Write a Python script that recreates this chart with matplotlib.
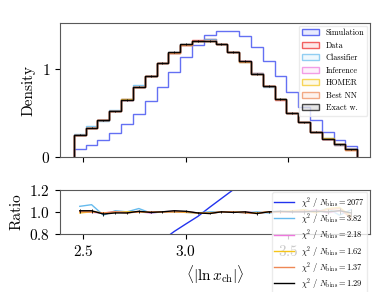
import numpy as np
import matplotlib
matplotlib.use('Agg')
import matplotlib.pyplot as plt
from matplotlib.patches import Patch
from matplotlib.colors import to_rgba

plt.rcParams.update({'font.family': 'serif',
                     'font.serif': ['cmr10'],
                     'mathtext.fontset': 'cm',
                     'axes.formatter.use_mathtext': True,
                     'font.size': 11,
                     'axes.edgecolor': '0.35',
                     'axes.linewidth': 0.8})

# binning of <|ln x_ch|>
edges = np.linspace(2.456, 3.836, 25)

# histograms (density)
data = [0.250, 0.330, 0.425, 0.525, 0.655, 0.795, 0.925, 1.070, 1.180, 1.275, 1.325, 1.335,
        1.280, 1.195, 1.087, 0.955, 0.805, 0.655, 0.500, 0.395, 0.284, 0.205, 0.142, 0.088]
sim = [0.090, 0.140, 0.190, 0.270, 0.370, 0.490, 0.640, 0.795, 0.970, 1.136, 1.270, 1.390,
       1.435, 1.435, 1.370, 1.250, 1.087, 0.917, 0.740, 0.568, 0.417, 0.284, 0.197, 0.129]

# ratios model / data
r_classifier = [1.05, 1.065, 0.97, 1.01, 1.00, 1.03, 0.99, 1.00, 1.00, 0.995, 0.99, 1.00,
                1.00, 1.00, 0.99, 1.00, 0.99, 1.00, 1.00, 1.02, 1.00, 1.03, 0.97, 1.02]
r_inference = [1.00, 0.995, 0.99, 1.00, 0.995, 1.00, 0.99, 1.00, 1.005, 1.00, 0.99, 0.99,
               1.00, 0.995, 1.00, 0.99, 1.00, 0.995, 1.00, 1.00, 1.02, 0.99, 1.01, 0.97]
r_homer = [0.99, 1.00, 0.99, 0.995, 1.00, 1.00, 0.995, 1.00, 1.00, 0.995, 0.99, 0.99,
           1.00, 1.00, 0.995, 0.99, 1.00, 1.00, 1.01, 1.02, 0.99, 1.03, 1.04, 0.96]
r_bestnn = [1.00, 1.00, 0.99, 1.00, 0.99, 1.00, 1.00, 1.00, 1.00, 1.00, 0.99, 0.985,
            1.00, 1.00, 0.99, 0.985, 1.00, 0.995, 1.005, 1.01, 1.00, 1.02, 1.03, 0.94]
r_exact = [1.01, 1.01, 0.98, 0.99, 0.99, 1.005, 0.995, 1.00, 1.01, 1.005, 0.99, 0.985,
           1.00, 0.995, 1.00, 0.985, 1.00, 1.005, 1.00, 1.00, 1.005, 1.00, 1.01, 0.99]
r_exact_err = [0.02, 0.017, 0.015, 0.013, 0.012, 0.011, 0.010, 0.010, 0.009, 0.009, 0.009, 0.009,
               0.009, 0.009, 0.010, 0.010, 0.011, 0.012, 0.014, 0.016, 0.019, 0.022, 0.026, 0.034]

labels = ['Simulation', 'Data', 'Classifier', 'Inference', 'HOMER', 'Best NN', 'Exact w.']
colors = ['#2233ee', '#ee2222', '#66bbee', '#ee77dd', '#f5c518', '#ee8855', 'black']
chi2 = ['2077', '3.82', '2.18', '1.62', '1.37', '1.29']

data = np.array(data)
sim = np.array(sim)
models = [r_classifier, r_inference, r_homer, r_bestnn, r_exact]
centers = 0.5*(edges[1:]+edges[:-1])

fig = plt.figure(figsize=(3.89, 2.92), dpi=100)
ax = fig.add_axes([0.154, 0.462, 0.797, 0.459])
axr = fig.add_axes([0.154, 0.199, 0.797, 0.151])

# --- top panel ---
ax.stairs(sim, edges, color=colors[0], lw=1.0, alpha=0.7)
ax.stairs(data, edges, color=colors[1], lw=1.0, alpha=0.8)
for r, c in zip(models, colors[2:]):
  h = data*np.array(r)
  ax.stairs(h, edges, color=c, lw=1.0, alpha=0.8)
hex_ = data*np.array(r_exact)
ax.stairs(hex_, edges, color='black', lw=1.0, alpha=0.8)
ax.errorbar(centers, hex_, yerr=hex_*np.array(r_exact_err), fmt='none', ecolor='black', elinewidth=0.6)

ax.set_xlim(2.388, 3.898)
ax.set_ylim(0, 1.52)
ax.set_xticks([2.5, 3.0, 3.5])
ax.set_xticklabels([])
ax.set_yticks([0, 1])
ax.set_ylabel('Density')

handles = [Patch(facecolor=to_rgba(c, 0.1), edgecolor=to_rgba(c, 0.7), lw=1.0) for c in colors]
ax.legend(handles, labels, loc='upper right', fontsize=5.9, frameon=True, framealpha=0.8,
          edgecolor='0.9', handlelength=2.1, handleheight=0.7, labelspacing=0.5,
          borderaxespad=0.3, borderpad=0.4, handletextpad=0.8)

# --- ratio panel ---
axr.plot(centers, sim/data, color=colors[0], lw=1.0, label=r'$\chi^2\ /\ N_\mathrm{bins} = %s$' % chi2[0])
for i, (r, c) in enumerate(zip(models[:-1], colors[2:-1])):
  axr.plot(centers, r, color=c, lw=1.0, label=r'$\chi^2\ /\ N_\mathrm{bins} = %s$' % chi2[i+1])
axr.errorbar(centers, r_exact, yerr=r_exact_err, fmt='none', ecolor='black', elinewidth=0.6)
axr.plot(centers, r_exact, color='black', lw=1.0,
         label=r'$\chi^2\ /\ N_\mathrm{bins} = %s$' % chi2[-1])
axr.set_xlim(2.388, 3.898)
axr.set_ylim(0.8, 1.2)
axr.set_xticks([2.5, 3.0, 3.5])
axr.set_yticks([0.8, 1.0, 1.2])
axr.set_ylabel('Ratio')
axr.set_xlabel(r'$\langle |\ln x_\mathrm{ch}| \rangle$')
axr.legend(loc='upper right', fontsize=6.0, framealpha=0.8, edgecolor='0.9',
           handlelength=2.4, labelspacing=0.15, borderaxespad=0.3, borderpad=0.3,
           handletextpad=0.8)

fig.savefig('out.png', dpi=100)
